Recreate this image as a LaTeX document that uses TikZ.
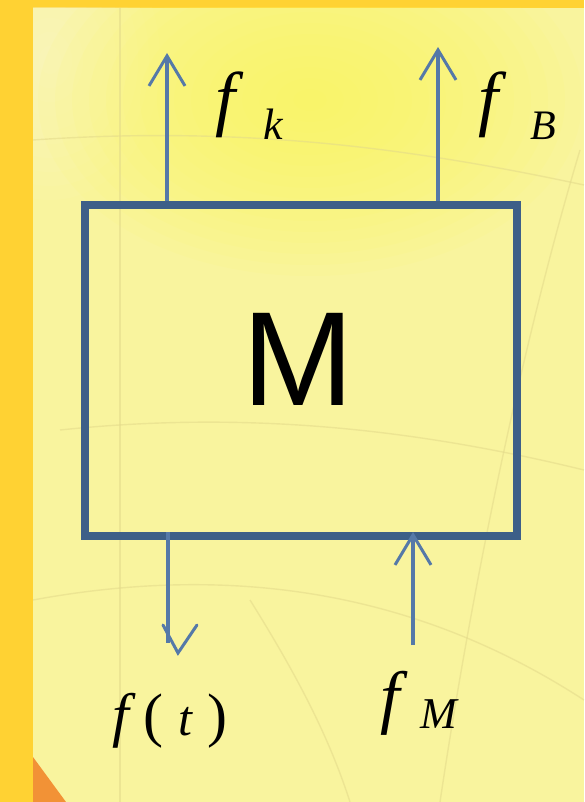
\documentclass[tikz,border=0pt]{standalone}
\usepackage{fontspec}
\setmainfont{Liberation Serif}
\newfontfamily\msans{Liberation Sans}
\usetikzlibrary{arrows.meta}
\definecolor{frame}{HTML}{FFD233}
\definecolor{paper}{HTML}{F9F49E}
\definecolor{glow}{HTML}{FFF45A}
\definecolor{pale}{HTML}{FAF8D0}
\definecolor{corner}{HTML}{F29236}
\definecolor{boxblue}{HTML}{3D5F88}
\definecolor{arrblue}{HTML}{5579A8}
\definecolor{texture}{HTML}{E3D98A}
\tikzset{
  boxline/.style={draw=boxblue, line width=8pt},
  arrline/.style={draw=arrblue, line width=4pt},
  vtip/.style={-{Straight Barb[length=30pt,width=36pt,line width=3pt]}},
  lab/.style={inner sep=0pt, anchor=base west, font=\itshape},
  tex/.style={draw=texture, line width=1.4pt, opacity=0.55},
  glowring/.style={fill=glow, opacity=0.07},
  palering/.style={fill=pale, opacity=0.08}
}
\begin{document}
\begin{tikzpicture}[x=1pt,y=-1pt]
\useasboundingbox (0,0) rectangle (584,802);
% background
\fill[frame] (0,0) rectangle (584,802);
\fill[paper] (33,8) rectangle (584,802);
\begin{scope}
\clip (33,8) rectangle (584,802);
\foreach \r in {1,...,10} {
  \fill[palering] (50,60) ellipse ({11*\r pt} and {14*\r pt});
}
\foreach \r in {1,...,16} {
  \fill[glowring] (310,100) ellipse ({17*\r pt} and {11*\r pt});
}
\fill[corner] (33,757) -- (66,802) -- (33,802) -- cycle;
% faint texture lines
\draw[tex] (33,140) .. controls (250,125) and (420,150) .. (584,185);
\draw[tex] (33,600) .. controls (250,560) and (430,600) .. (584,700);
\draw[tex] (120,8) -- (120,802);
\draw[tex] (580,150) .. controls (520,350) and (470,600) .. (440,802);
\draw[tex] (60,430) .. controls (250,410) and (420,430) .. (584,470);
\draw[tex] (250,600) .. controls (300,680) and (330,740) .. (350,802);
\end{scope}
% box
\node[boxline, minimum width=432pt, minimum height=331pt, inner sep=0pt, anchor=north west] (box) at (81,201) {};
\node[inner sep=0pt, anchor=base, font=\msans\fontsize{134}{136}\selectfont] (M) at (298.5,405) {M};
% arrow end points
\coordinate (kfoot) at (167,201);
\coordinate (ktop) at (167,53);
\coordinate (bfoot) at (438,201);
\coordinate (btop) at (438,47);
\coordinate (tfoot) at (168,532);
\coordinate (tend) at (168,643);
\coordinate (ttip) at (178,653);
\coordinate (tl) at (163,625);
\coordinate (tr) at (197,625);
\coordinate (mstart) at (413,645);
\coordinate (mtip) at (413,532);
\draw[arrline, vtip] (kfoot) -- (ktop);
\draw[arrline, vtip] (bfoot) -- (btop);
\draw[arrline, vtip] (mstart) -- (mtip);
\draw[arrline] (tfoot) -- (tend);
\draw[draw=arrblue, line width=3pt, line cap=round] (tl) -- (ttip) -- (tr);
% labels
\node[lab] (fk) at (215.6,123) {\fontsize{72}{72}\selectfont f\hspace{28pt}\raisebox{-17pt}{\fontsize{44}{44}\selectfont k}};
\node[lab] (fB) at (478.6,123) {\fontsize{72}{72}\selectfont f\hspace{32pt}\raisebox{-17pt}{\fontsize{42}{42}\selectfont B}};
\node[lab] (fM) at (380.3,720) {\fontsize{70}{70}\selectfont f\hspace{21pt}\raisebox{-8pt}{\fontsize{44}{44}\selectfont M}};
\node[lab] (ft) at (112,735) {\fontsize{60}{60}\selectfont f\hspace{15pt}{\upshape(}\hspace{15pt}{\fontsize{50}{50}\selectfont t}\hspace{15pt}{\upshape)}};
\end{tikzpicture}
\end{document}
